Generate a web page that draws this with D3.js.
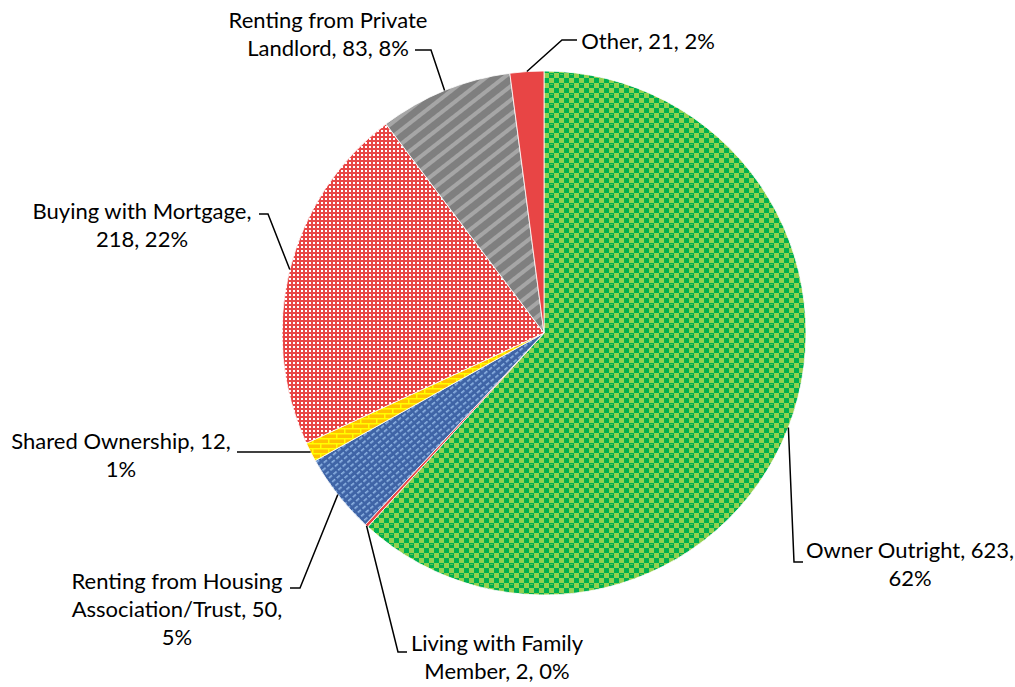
<!DOCTYPE html>
<html>
<head>
<meta charset="utf-8">
<script src="https://cdn.jsdelivr.net/npm/d3@7"></script>
<style>
  body { margin: 0; background: #fff; }
  svg text { font-family: Lato, "Open Sans", sans-serif; font-size: 22px; fill: #000; }
</style>
</head>
<body>
<svg width="1015" height="687"></svg>
<script>
const categories = ["Owner Outright", "Living with Family Member", "Renting from Housing Association/Trust",
    "Shared Ownership", "Buying with Mortgage", "Renting from Private Landlord", "Other"];
const values = [623, 2, 50, 12, 218, 83, 21];
const fills = ["url(#pGreen)", "#e84545", "url(#pBlue)", "url(#pBricks)", "url(#pRedDots)", "url(#pGray)", "#e84545"];

// label layout: text centre x, first line y, words per line, elbow point, label attach point
const labelLayout = [
    { x: 910, y: 552, breaks: [3], elbow: [794, 562], attach: [803, 562] },
    { x: 497, y: 645, breaks: [3], elbow: [398, 652], attach: [407, 652] },
    { x: 177, y: 583, breaks: [3, 5], elbow: [300, 588], attach: [290, 588] },
    { x: 121, y: 443, breaks: [3], elbow: [237, 452], attach: [237, 452] },
    { x: 142, y: 213, breaks: [3], elbow: [268, 214], attach: [259, 214] },
    { x: 328, y: 22, breaks: [3], elbow: [431, 50], attach: [415, 50] },
    { x: 648, y: 43, breaks: [], elbow: [562, 40], attach: [577, 40] }
];

const svg = d3.select("svg");
const cx = 544, cy = 333, radius = 262;
const total = d3.sum(values);

const defs = svg.append("defs");

// green checks
const pg = defs.append("pattern").attr("id", "pGreen").attr("patternUnits", "userSpaceOnUse")
    .attr("width", 10).attr("height", 10);
pg.append("rect").attr("width", 10).attr("height", 10).attr("fill", "#00b050");
pg.append("rect").attr("width", 5).attr("height", 5).attr("fill", "#92d050");
pg.append("rect").attr("x", 5).attr("y", 5).attr("width", 5).attr("height", 5).attr("fill", "#92d050");
pg.append("rect").attr("x", 6).attr("y", 1).attr("width", 3).attr("height", 1).attr("fill", "#5cc050");

// red with white dots
const pr = defs.append("pattern").attr("id", "pRedDots").attr("patternUnits", "userSpaceOnUse")
    .attr("width", 4).attr("height", 4);
pr.append("rect").attr("width", 4).attr("height", 4).attr("fill", "#e84545");
pr.append("rect").attr("x", 1).attr("y", 1).attr("width", 2).attr("height", 2).attr("fill", "#ffffff");

// gray diagonal stripes
const pgr = defs.append("pattern").attr("id", "pGray").attr("patternUnits", "userSpaceOnUse")
    .attr("width", 20).attr("height", 11).attr("patternTransform", "rotate(-38)");
pgr.append("rect").attr("width", 20).attr("height", 11).attr("fill", "#7f7f7f");
pgr.append("rect").attr("y", 3).attr("width", 20).attr("height", 4).attr("fill", "#a6a6a6");

// blue diagonal dashes
const pb = defs.append("pattern").attr("id", "pBlue").attr("patternUnits", "userSpaceOnUse")
    .attr("width", 6).attr("height", 5).attr("patternTransform", "rotate(-40)");
pb.append("rect").attr("width", 6).attr("height", 5).attr("fill", "#3f64a6");
pb.append("rect").attr("y", 2).attr("width", 4).attr("height", 1.6).attr("fill", "#8eb4e3");

// yellow bricks
const pk = defs.append("pattern").attr("id", "pBricks").attr("patternUnits", "userSpaceOnUse")
    .attr("width", 16).attr("height", 10);
pk.append("rect").attr("width", 16).attr("height", 10).attr("fill", "#ffc000");
pk.append("path").attr("d", "M0,0.75H16M0,5.75H16M0.75,0V5M8.75,5V10")
    .attr("stroke", "#ffff00").attr("stroke-width", 1.5).attr("fill", "none");

const pie = d3.pie().sort(null).value(d => d.value);
const arcs = pie(categories.map((c, i) => ({ name: c, value: values[i], i })));
const arc = d3.arc().innerRadius(0).outerRadius(radius);

const g = svg.append("g").attr("transform", `translate(${cx},${cy})`);
g.selectAll("path")
    .data(arcs)
    .join("path")
    .attr("d", arc)
    .attr("fill", d => fills[d.data.i])
    .attr("stroke", "#ffffff")
    .attr("stroke-width", 0.8);

// leader lines
const leaders = svg.append("g");
arcs.forEach(d => {
    const L = labelLayout[d.data.i];
    const a = (d.startAngle + d.endAngle) / 2;
    const ax = cx + radius * Math.sin(a), ay = cy - radius * Math.cos(a);
    leaders.append("polyline")
        .attr("points", [[ax, ay], L.elbow, L.attach].map(p => p.join(",")).join(" "))
        .attr("fill", "none").attr("stroke", "#000").attr("stroke-width", 1.5);
});

// labels
const labels = svg.append("g");
arcs.forEach(d => {
    const L = labelLayout[d.data.i];
    const pct = Math.round(d.data.value / total * 100);
    const words = `${d.data.name}, ${d.data.value}, ${pct}%`.split(" ");
    const cuts = [0, ...L.breaks, words.length];
    const t = labels.append("text").attr("text-anchor", "middle");
    for (let k = 0; k < cuts.length - 1; k++) {
        t.append("tspan")
            .attr("x", L.x)
            .attr("y", L.y + k * 28)
            .attr("dominant-baseline", "middle")
            .text(words.slice(cuts[k], cuts[k + 1]).join(" "));
    }
});
</script>
</body>
</html>
